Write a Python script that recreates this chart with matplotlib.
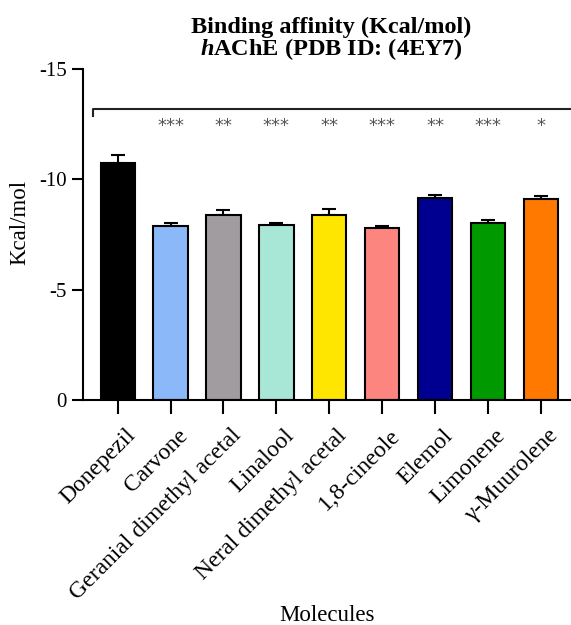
import matplotlib
matplotlib.use("Agg")
import matplotlib.pyplot as plt
import matplotlib.transforms as mtransforms
import numpy as np

plt.rcParams['font.family'] = ['Liberation Serif', 'DejaVu Serif']
plt.rcParams['mathtext.fontset'] = 'custom'
plt.rcParams['mathtext.it'] = 'Liberation Serif:italic:bold'
plt.rcParams['mathtext.rm'] = 'Liberation Serif:bold'

molecules = ['Donepezil', 'Carvone', 'Geranial dimethyl acetal', 'Linalool',
             'Neral dimethyl acetal', '1,8-cineole', 'Elemol', 'Limonene',
             'γ-Muurolene']
energies = [-10.72, -7.87, -8.40, -7.92, -8.37, -7.78, -9.14, -8.00, -9.10]
errors = [0.40, 0.13, 0.20, 0.12, 0.27, 0.09, 0.15, 0.15, 0.16]
stars = ['', '***', '**', '***', '**', '***', '**', '***', '*']
colors = ['#000000', '#8ab8f8', '#a09ca0', '#a8e6d6', '#ffe600',
          '#fc8580', '#000090', '#009900', '#ff7800']
yticks = [0, -5, -10, -15]

fig = plt.figure(figsize=(5.71, 6.25), dpi=100)
ax = fig.add_axes([0.145, 0.36, 0.855, 0.5296])

x = np.arange(len(molecules))
ax.bar(x, energies, width=0.65, color=colors, edgecolor='black', linewidth=1.5,
       zorder=2)
ax.errorbar(x, energies, yerr=[errors, np.zeros(len(errors))], fmt='none',
            ecolor='black', elinewidth=1.5, capsize=5, capthick=1.5, zorder=1)

# significance bracket and stars
ax.plot([-0.47, -0.47, 8.7], [-12.85, -13.2, -13.2], color='#222222', lw=1.5,
        clip_on=False)
for xi, s in zip(x, stars):
    ax.text(xi, -12.4, s, ha='center', va='center', fontsize=13,
            color='#555555', family='DejaVu Sans')

ax.set_xlim(-0.66, 8.57)
ax.set_ylim(0, -15)
ax.set_yticks(yticks)
ax.set_yticklabels([str(t) for t in yticks], fontsize=15)
ax.set_xticks(x)
ax.set_xticklabels([])
# rotated category labels, slightly offset from the tick ends like the original
shift = mtransforms.ScaledTranslation(0.07, -0.25, fig.dpi_scale_trans)
for xi, name in zip(x, molecules):
    ax.text(xi, 0, name, transform=ax.get_xaxis_transform() + shift,
            rotation=45, ha='right', va='top', rotation_mode='anchor',
            fontsize=17)
ax.tick_params(axis='y', direction='out', length=8, width=1.5)
ax.tick_params(axis='x', direction='out', length=10, width=1.5)
for side in ['top', 'right']:
    ax.spines[side].set_visible(False)
for side in ['left', 'bottom']:
    ax.spines[side].set_linewidth(1.5)

fig.text(0.58, 1 - 39 / 625,
         'Binding affinity (Kcal/mol)\n$h$AChE (PDB ID: (4EY7)',
         ha='center', va='center', multialignment='center', linespacing=0.9,
         fontsize=17.5, fontweight='bold')
fig.text(0.035, 1 - 222 / 625, 'Kcal/mol', rotation=90, ha='center',
         va='center', fontsize=16.5)
fig.text(0.572, 1 - 621 / 625, 'Molecules', ha='center', va='baseline',
         fontsize=16.5)

fig.savefig('out.png', dpi=100)
